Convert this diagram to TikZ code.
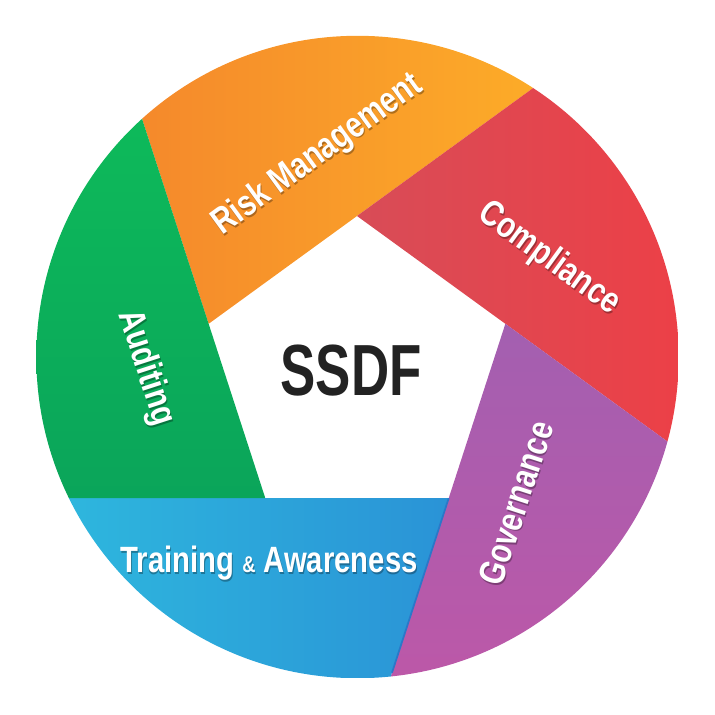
\documentclass[tikz,border=0pt]{standalone}
\usepackage{fontspec}
\setmainfont{Liberation Sans}
\newfontfamily\segfont[FakeStretch=0.8]{Liberation Sans}
\newfontfamily\hubfont[FakeStretch=0.73]{Liberation Sans}
\usepackage{tikz}
\usetikzlibrary{calc}

\definecolor{riskL}{RGB}{243,128,44}
\definecolor{riskR}{RGB}{255,184,39}
\definecolor{compL}{RGB}{196,88,103}
\definecolor{compR}{RGB}{236,64,71}
\definecolor{govT}{RGB}{143,101,183}
\definecolor{govB}{RGB}{188,88,168}
\definecolor{trainL}{RGB}{46,185,222}
\definecolor{trainR}{RGB}{40,126,210}
\definecolor{audT}{RGB}{14,190,90}
\definecolor{audB}{RGB}{9,155,90}
\definecolor{hubtext}{HTML}{222222}
\definecolor{seam}{HTML}{2A78C8}

\newcommand{\smallamp}{{\fontsize{6.5}{6.5}\selectfont\&}}

\begin{document}
\begin{tikzpicture}[x=0.01cm, y=0.01cm,
  riskfill/.style={left color=riskL, right color=riskR},
  compfill/.style={left color=compL, right color=compR},
  govfill/.style={top color=govT, bottom color=govB},
  trainfill/.style={left color=trainL, right color=trainR},
  audfill/.style={top color=audT, bottom color=audB},
  seglabel/.style={text=white, inner sep=0pt,
    font=\segfont\bfseries\fontsize{10.4}{12}\selectfont},
  segshadow/.style={seglabel, text=black, opacity=0.3}]
\useasboundingbox (0,0) rectangle (715,715);

% ring and pentagon
\coordinate (cc) at (357.5,358);
\coordinate (pc) at (357,343);
\foreach \i/\a in {1/90, 2/18, 3/-54, 4/-126, 5/162}
  \coordinate (p\i) at ($(pc)+(\a:156)$);

% five segments, each edge pushed out to the rim
\begin{scope}
  \clip (cc) circle[radius=3.21cm];
  \foreach \i/\j/\k/\sty in {5/1/4/riskfill, 1/2/5/compfill, 2/3/1/govfill,
                             3/4/2/trainfill, 4/5/3/audfill} {
    \begin{scope}
      \clip (p\i) -- (p\j) -- ($(p\i)!4!(p\j)$) -- ($(p\k)!4!(p\i)$) -- cycle;
      \shade[\sty] ($(cc)+(-321,-321)$) rectangle ($(cc)+(321,321)$);
    \end{scope}
  }
  \draw[seam, line width=0.5pt] (p3) -- ($(p2)!2!(p3)$);
\end{scope}

% labels, each with a soft drop shadow
\foreach \nm/\x/\y/\ang/\txt in {risk/318/560/36/{Risk Management},
    comp/549/456/-36/Compliance, gov/516/212/72/Governance,
    train/269/152/0/{Training \smallamp{} Awareness}, aud/146/347/-72/Auditing} {
  \node[segshadow, rotate=\ang] (\nm-sh) at (\x+0.8,\y-1.8) {\txt};
  \node[seglabel, rotate=\ang] (\nm) at (\x,\y) {\txt};
}

\node[text=hubtext, font=\hubfont\bfseries\fontsize{20.6}{24}\selectfont] (hub) at (351,344) {SSDF};
\end{tikzpicture}
\end{document}
